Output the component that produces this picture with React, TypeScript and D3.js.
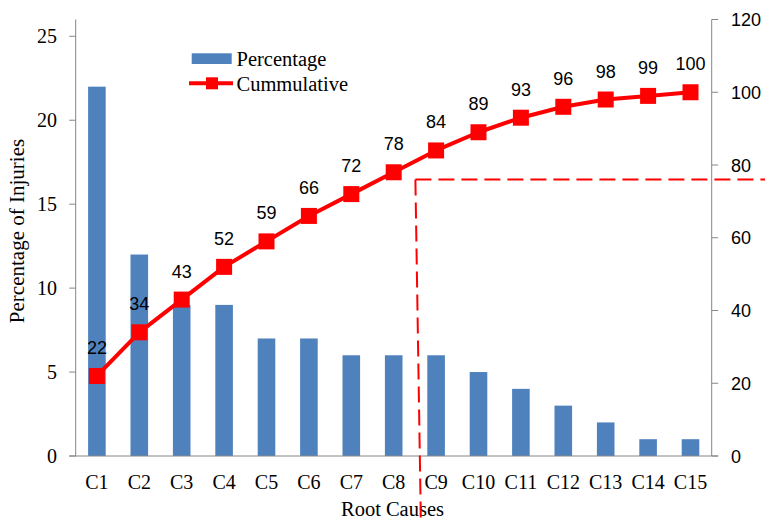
import React from "react";
import * as d3 from "d3";

// Root causes of injuries, Pareto view
const categories = ["C1", "C2", "C3", "C4", "C5", "C6", "C7", "C8", "C9", "C10", "C11", "C12", "C13", "C14", "C15"];
const percentage = [22, 12, 9, 9, 7, 7, 6, 6, 6, 5, 4, 3, 2, 1, 1];
const cumulative = [22, 34, 43, 52, 59, 66, 72, 78, 84, 89, 93, 96, 98, 99, 100];
const leftTicks = [0, 5, 10, 15, 20, 25];
const rightTicks = [0, 20, 40, 60, 80, 100, 120];
const cutoffValue = 76; // cumulative share marking the vital few
const cutoffIndex = 8; // boundary between C8 and C9

const W = 765;
const H = 523;
const left = 75.7;
const right = 711.7;
const top = 19.5;
const bottom = 456;

const BLUE = "#4F81BD";
const RED = "#FF0000";
const AXIS = "#868686";
const SERIF = "'Liberation Serif', 'Times New Roman', serif";
const SANS = "'Liberation Sans', Arial, sans-serif";

export default function App() {
  const x = d3.scaleBand<string>().domain(categories).range([left, right]).padding(0);
  const yL = d3.scaleLinear().domain([0, 26]).range([bottom, top]);
  const yR = d3.scaleLinear().domain([0, 120]).range([bottom, top]);
  const bw = x.bandwidth();
  const barW = bw * 0.415;
  const cx = (c: string) => (x(c) as number) + bw / 2;

  const line = d3
    .line<number>()
    .x((_, i) => cx(categories[i]))
    .y((d) => yR(d));

  const cutX = left + cutoffIndex * bw;
  const cutY = yR(cutoffValue);

  return (
    <svg
      width={W}
      height={H}
      style={{ position: "absolute", left: 0, top: 0, background: "#fff" }}
    >
      {/* bars */}
      {percentage.map((v, i) => (
        <rect
          key={categories[i]}
          x={cx(categories[i]) - barW / 2}
          y={yL(v)}
          width={barW}
          height={yL(0) - yL(v)}
          fill={BLUE}
        />
      ))}

      {/* left axis */}
      <line x1={left} x2={left} y1={top} y2={bottom} stroke={AXIS} strokeWidth={1} />
      {leftTicks.map((t) => (
        <g key={t}>
          <line x1={left - 6.5} x2={left} y1={yL(t)} y2={yL(t)} stroke={AXIS} />
          <text
            x={57}
            y={yL(t) + 7}
            textAnchor="end"
            fontFamily={SERIF}
            fontSize={20}
            fill="#000"
          >
            {t}
          </text>
        </g>
      ))}

      {/* right axis */}
      <line x1={right} x2={right} y1={top} y2={bottom} stroke={AXIS} strokeWidth={1} />
      {rightTicks.map((t) => (
        <g key={t}>
          <line x1={right} x2={right + 6.5} y1={yR(t)} y2={yR(t)} stroke={AXIS} />
          <text
            x={731}
            y={yR(t) + 6.5}
            textAnchor="start"
            fontFamily={SANS}
            fontSize={18}
            fill="#000"
          >
            {t}
          </text>
        </g>
      ))}

      {/* category axis */}
      <line x1={left - 6.5} x2={right + 6.5} y1={bottom} y2={bottom} stroke={AXIS} />
      {categories.map((c) => (
        <text
          key={c}
          x={cx(c)}
          y={488.5}
          textAnchor="middle"
          fontFamily={SERIF}
          fontSize={20}
          fill="#000"
        >
          {c}
        </text>
      ))}

      {/* axis titles */}
      <text x={392.5} y={515.5} textAnchor="middle" fontFamily={SERIF} fontSize={20.5} fill="#000">
        Root Causes
      </text>
      <text
        transform="translate(24,231) rotate(-90)"
        textAnchor="middle"
        fontFamily={SERIF}
        fontSize={21}
        fill="#000"
      >
        Percentage of Injuries
      </text>

      {/* cumulative line */}
      <path d={line(cumulative) || ""} fill="none" stroke={RED} strokeWidth={4} strokeLinejoin="round" />
      {cumulative.map((v, i) => (
        <rect
          key={categories[i]}
          x={cx(categories[i]) - 8}
          y={yR(v) - 8}
          width={16}
          height={16}
          fill={RED}
        />
      ))}
      {cumulative.map((v, i) => (
        <text
          key={categories[i]}
          x={cx(categories[i])}
          y={yR(v) - 22}
          textAnchor="middle"
          fontFamily={SANS}
          fontSize={18}
          fill="#000"
        >
          {v}
        </text>
      ))}

      {/* cutoff marker */}
      <line
        x1={cutX + 0.5}
        y1={cutY}
        x2={W}
        y2={cutY}
        stroke={RED}
        strokeWidth={2}
        strokeDasharray="16 7"
      />
      <line
        x1={cutX + 0.5}
        y1={cutY}
        x2={cutX + 6}
        y2={H}
        stroke={RED}
        strokeWidth={2}
        strokeDasharray="16 7"
      />

      {/* legend */}
      <rect x={191.7} y={53.3} width={40} height={10.7} fill={BLUE} />
      <text x={236.5} y={65.5} fontFamily={SERIF} fontSize={20.5} fill="#000">
        Percentage
      </text>
      <line x1={189} x2={233} y1={83.3} y2={83.3} stroke={RED} strokeWidth={4} />
      <rect x={206} y={77.3} width={12} height={12} fill={RED} />
      <text x={236.5} y={91} fontFamily={SERIF} fontSize={20.5} fill="#000">
        Cummulative
      </text>
    </svg>
  );
}
